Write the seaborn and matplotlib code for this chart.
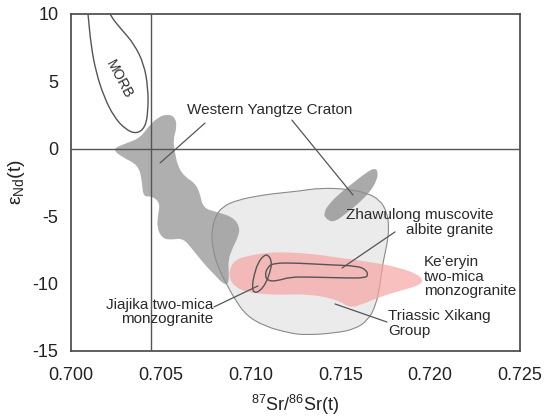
import matplotlib
matplotlib.use("Agg")
import matplotlib.pyplot as plt
import seaborn as sns
import numpy as np
from matplotlib.path import Path
from matplotlib.patches import PathPatch

# field outlines (87Sr/86Sr(t), eNd(t))
morb_sr = [0.70089, 0.70095, 0.70111, 0.70139, 0.70184, 0.70240, 0.70301, 0.70362,
           0.70412, 0.70429, 0.70429, 0.70406, 0.70351, 0.70284, 0.70223, 0.70195]
morb_nd = [10.67, 10.0, 7.70, 5.69, 3.84, 2.35, 1.46, 1.09,
           1.54, 2.72, 4.51, 6.29, 7.77, 8.81, 9.78, 10.67]

wyc_sr = [0.70228, 0.70312, 0.70384, 0.70429, 0.70479, 0.70535, 0.70579, 0.70590,
          0.70568, 0.70579, 0.70596, 0.70635, 0.70690, 0.70718, 0.70735, 0.70813,
          0.70902, 0.70941, 0.70930, 0.70902, 0.70874, 0.70880, 0.70874, 0.70841,
          0.70802, 0.70757, 0.70679, 0.70624, 0.70551, 0.70507, 0.70479, 0.70484,
          0.70496, 0.70451, 0.70401, 0.70395, 0.70373, 0.70284]
wyc_nd = [-0.02, 0.42, 0.79, 1.61, 2.28, 2.58, 2.35, 1.61,
          0.65, -0.32, -1.36, -2.10, -2.55, -3.30, -4.41, -4.71,
          -5.08, -5.83, -6.56, -7.31, -8.27, -9.39, -10.13, -9.97,
          -9.39, -8.80, -7.53, -6.63, -6.78, -6.63, -5.89, -4.92,
          -4.03, -3.51, -3.59, -2.32, -1.21, -0.62]

zhaw_sr = [0.71414, 0.71459, 0.71537, 0.71609, 0.71665, 0.71704, 0.71709,
           0.71693, 0.71648, 0.71570, 0.71498, 0.71431, 0.71409]
zhaw_nd = [-5.14, -5.52, -4.77, -3.96, -3.21, -2.32, -1.73,
           -1.43, -1.73, -2.55, -3.29, -4.18, -4.77]

xikang_sr = [0.70802, 0.70841, 0.70924, 0.71069, 0.71164, 0.71275, 0.71386, 0.71537,
             0.71648, 0.71720, 0.71759, 0.71771, 0.71759, 0.71737, 0.71720, 0.71698,
             0.71654, 0.71581, 0.71470, 0.71308, 0.71214, 0.71075, 0.70974, 0.70908,
             0.70863, 0.70813, 0.70785, 0.70785]
xikang_nd = [-5.07, -4.33, -3.81, -3.44, -3.29, -3.14, -2.92, -2.99,
             -3.29, -3.81, -4.71, -5.89, -7.16, -8.42, -10.13, -11.61,
             -12.73, -13.40, -13.69, -13.84, -13.69, -13.17, -12.36, -11.09,
             -9.98, -8.64, -7.15, -6.04]

keeryin_sr = [0.70885, 0.70913, 0.70980, 0.71080, 0.71175, 0.71347, 0.71498, 0.71665,
              0.71815, 0.71927, 0.71960, 0.71943, 0.71849, 0.71720, 0.71626, 0.71553,
              0.71487, 0.71331, 0.71164, 0.71063, 0.70980, 0.70913, 0.70880]
keeryin_nd = [-8.86, -8.26, -7.97, -7.74, -7.67, -7.81, -8.11, -8.41,
              -8.78, -9.30, -9.75, -10.12, -10.49, -11.01, -11.53, -11.83,
              -11.24, -10.79, -10.86, -10.79, -10.64, -10.27, -9.60]

jiajika_sr = [0.71097, 0.71119, 0.71108, 0.71086, 0.71052, 0.71019, 0.71008, 0.71019, 0.71041, 0.71069]
jiajika_nd = [-7.85, -8.41, -9.16, -9.97, -10.57, -10.72, -10.27, -9.38, -8.49, -7.97]

zmag_sr = [0.71080, 0.71091, 0.71125, 0.71258, 0.71442, 0.71598, 0.71643,
           0.71654, 0.71637, 0.71526, 0.71331, 0.71219, 0.71147, 0.71097]
zmag_nd = [-9.45, -8.86, -8.49, -8.49, -8.63, -8.71, -9.01,
           -9.38, -9.60, -9.60, -9.53, -9.53, -9.82, -9.82]

# reference lines
bse_sr = 0.70444
chur_nd = 0.0

# labels
labels = ["Western Yangtze Craton", "Zhawulong muscovite\nalbite granite",
          "Ke\u2019eryin\ntwo-mica\nmonzogranite", "Triassic Xikang\nGroup",
          "Jiajika two-mica\nmonzogranite"]
label_sr = [0.70646, 0.72350, 0.71965, 0.71765, 0.70791]
label_nd = [2.87, -5.48, -9.52, -12.98, -12.13]
label_ha = ["left", "right", "left", "left", "right"]

# leader lines: start (sr, nd) -> end (sr, nd)
lead_sr0 = [0.70746, 0.71230, 0.71804, 0.71759, 0.70796]
lead_nd0 = [1.90, 2.12, -6.18, -12.87, -11.75]
lead_sr1 = [0.70496, 0.71570, 0.71509, 0.71470, 0.71041]
lead_nd1 = [-1.06, -3.44, -8.86, -11.53, -10.19]

x_ticks = [0.700, 0.705, 0.710, 0.715, 0.720, 0.725]
y_ticks = [-15, -10, -5, 0, 5, 10]


def smooth_path(xs, ys, closed=True):
    pts = np.column_stack([xs, ys])
    n = len(pts)
    if closed:
        mids = (pts + np.roll(pts, -1, axis=0)) / 2
        verts = [mids[-1]]
        codes = [Path.MOVETO]
        for i in range(n):
            verts += [pts[i], mids[i]]
            codes += [Path.CURVE3, Path.CURVE3]
        verts.append(mids[-1])
        codes.append(Path.CLOSEPOLY)
    else:
        mids = (pts[:-1] + pts[1:]) / 2
        verts = [pts[0]]
        codes = [Path.MOVETO]
        for i in range(1, n - 1):
            verts += [pts[i], mids[i]]
            codes += [Path.CURVE3, Path.CURVE3]
        verts.append(pts[-1])
        codes.append(Path.LINETO)
    return Path(np.array(verts), codes)


sns.set_style("white")
plt.rcParams['font.family'] = ['Liberation Sans', 'DejaVu Sans']
plt.rcParams['mathtext.fontset'] = 'custom'
plt.rcParams['mathtext.rm'] = 'Liberation Sans'
plt.rcParams['axes.unicode_minus'] = False

fig = plt.figure(figsize=(5.5, 4.2), dpi=100)
ax = fig.add_axes([0.1291, 0.165, 0.9455 - 0.1291, 0.9667 - 0.165])

edge = '#555555'
txt = '#2a2a2a'

ax.add_patch(PathPatch(smooth_path(xikang_sr, xikang_nd), facecolor='#ebebeb',
                       edgecolor='#8a8a8a', lw=0.8, zorder=1))
ax.add_patch(PathPatch(smooth_path(wyc_sr, wyc_nd), facecolor='#8e8e8e',
                       edgecolor='none', alpha=0.7, zorder=2))
ax.add_patch(PathPatch(smooth_path(zhaw_sr, zhaw_nd), facecolor='#8e8e8e',
                       edgecolor='none', alpha=0.75, zorder=2))
ax.add_patch(PathPatch(smooth_path(keeryin_sr, keeryin_nd), facecolor='#f7a2a2',
                       edgecolor='none', alpha=0.68, zorder=3))
ax.add_patch(PathPatch(smooth_path(jiajika_sr, jiajika_nd), facecolor='none',
                       edgecolor=edge, lw=1.0, zorder=4))
ax.add_patch(PathPatch(smooth_path(zmag_sr, zmag_nd), facecolor='none',
                       edgecolor=edge, lw=1.0, zorder=4))
ax.add_patch(PathPatch(smooth_path(morb_sr, morb_nd, closed=False), facecolor='none',
                       edgecolor=edge, lw=1.0, zorder=4))

ax.axhline(chur_nd, color=edge, lw=1.0, zorder=5)
ax.axvline(bse_sr, color=edge, lw=1.0, zorder=5)

ax.text(0.70267, 5.17, "MORB", rotation=-62, ha='center', va='center',
        fontsize=10, color=txt, rotation_mode='anchor')

for x0, y0, x1, y1 in zip(lead_sr0, lead_nd0, lead_sr1, lead_nd1):
    sns.lineplot(x=[x0, x1], y=[y0, y1], ax=ax, color=edge, lw=0.9,
                 sort=False, zorder=6)

for t, x, y, ha in zip(labels, label_sr, label_nd, label_ha):
    ax.text(x, y, t, ha=ha, va='center', fontsize=11, color=txt,
            linespacing=1.05, multialignment=ha, zorder=7)

ax.set_xlim(0.700, 0.725)
ax.set_ylim(-15, 10)
ax.set_xticks(x_ticks)
ax.set_xticklabels([f"{v:.3f}" for v in x_ticks])
ax.set_yticks(y_ticks)
ax.tick_params(direction='in', length=7, width=1.0, color=edge, labelsize=13,
               labelcolor='#222222')
ax.tick_params(axis='x', pad=12)
ax.tick_params(axis='y', pad=9)
for s in ax.spines.values():
    s.set_color('#444444')
    s.set_linewidth(1.2)

ax.set_xlabel(r"$\mathregular{^{87}}$Sr/$\mathregular{^{86}}$Sr(t)", fontsize=13,
              color='#222222', labelpad=6)
ax.set_ylabel(r"ε$\mathregular{_{Nd}}$(t)", fontsize=14, color='#222222', labelpad=4)

fig.savefig("out.png", dpi=100)
